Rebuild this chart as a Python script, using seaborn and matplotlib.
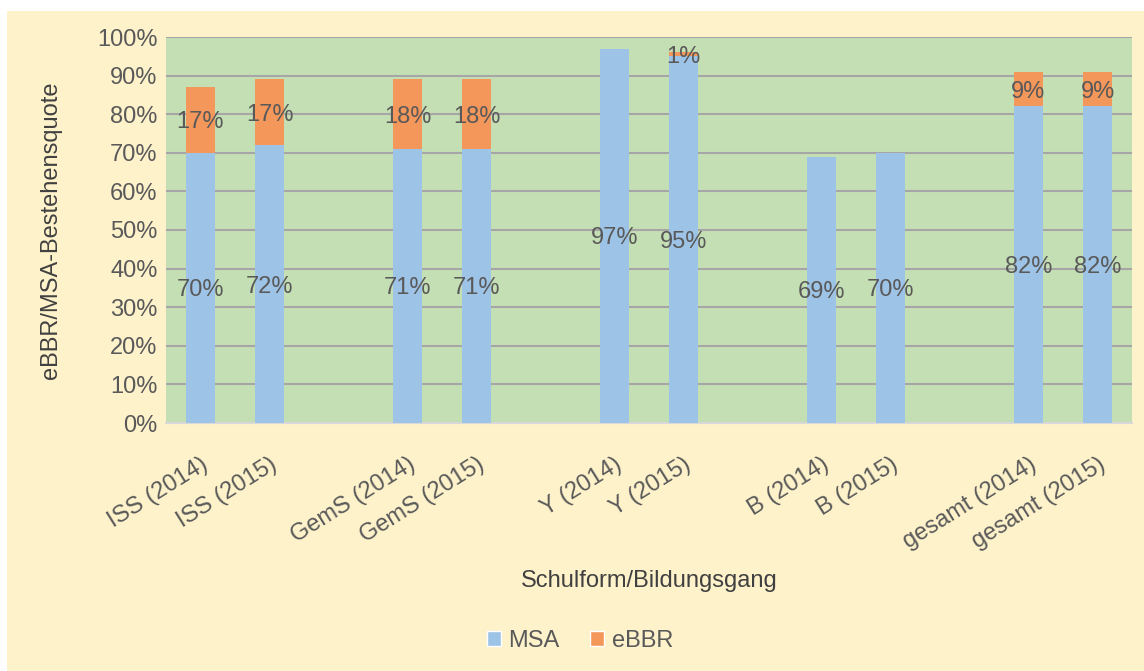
import matplotlib
matplotlib.use("Agg")
import matplotlib.pyplot as plt
from matplotlib.patches import Rectangle, Patch
import seaborn as sns
import pandas as pd

# Categories (school type / year) and pass rates in percent
categories = ["ISS (2014)", "ISS (2015)", "GemS (2014)", "GemS (2015)",
              "Y (2014)", "Y (2015)", "B (2014)", "B (2015)",
              "gesamt (2014)", "gesamt (2015)"]
msa = [70, 72, 71, 71, 97, 95, 69, 70, 82, 82]
ebbr = [17, 17, 18, 18, 0, 1, 0, 0, 9, 9]
yticks = [0, 10, 20, 30, 40, 50, 60, 70, 80, 90, 100]

C_MSA = "#9DC3E6"
C_EBBR = "#F4975A"
C_TEXT = "#595959"
C_PLOT = "#C5DFB4"
C_BG = "#FEF2CB"
FS = 17

sns.set_theme(style="white")
plt.rcParams["font.family"] = ["Liberation Sans", "DejaVu Sans"]

# Slot order: pairs of years separated by an empty slot
order = []
for i in range(0, len(categories), 2):
    if order:
        order.append(" " * (i // 2))
    order += categories[i:i + 2]

df = pd.DataFrame({"kat": categories, "MSA": msa, "eBBR": ebbr})
df["gesamt"] = df["MSA"] + df["eBBR"]

fig = plt.figure(figsize=(11.44, 6.71), dpi=100)
fig.patch.set_facecolor("white")
fig.patches.append(Rectangle((7 / 1144, 0), 1, (671 - 11) / 671,
                             transform=fig.transFigure, facecolor=C_BG,
                             edgecolor="none", zorder=-10))

ax = fig.add_axes([166 / 1144, 1 - 423 / 671, (1132 - 166) / 1144, (423 - 37) / 671])
ax.set_facecolor(C_PLOT)

# Stacked bars: total (orange) first, MSA (blue) drawn over it
sns.barplot(data=df, x="kat", y="gesamt", order=order, color=C_EBBR,
            saturation=1, width=0.41, errorbar=None, ax=ax, zorder=3,
            linewidth=0, edgecolor="none")
sns.barplot(data=df, x="kat", y="MSA", order=order, color=C_MSA,
            saturation=1, width=0.41, errorbar=None, ax=ax, zorder=4,
            linewidth=0, edgecolor="none")

ax.set_xlim(-0.5, len(order) - 0.5)
ax.set_ylim(0, 100)
ax.set_yticks(yticks)
ax.set_yticklabels([f"{v}%" for v in yticks], color=C_TEXT, fontsize=FS)
ax.yaxis.grid(True, color="#A6A6A6", linewidth=1.5, zorder=0)
ax.set_axisbelow(True)
for s in ["top", "left", "right"]:
    ax.spines[s].set_visible(False)
ax.spines["bottom"].set_color("#D9D9D9")
ax.spines["bottom"].set_linewidth(1.5)
ax.tick_params(axis="both", length=0, pad=6)

# Value labels in the middle of each segment
for cat, m, e in zip(categories, msa, ebbr):
    xpos = order.index(cat)
    ax.text(xpos, m / 2, f"{m}%", ha="center", va="center_baseline",
            fontsize=FS, color=C_TEXT, zorder=6)
    if e > 0:
        ax.text(xpos, m + e / 2, f"{e}%", ha="center", va="center_baseline",
                fontsize=FS, color=C_TEXT, zorder=6)

ax.set_xticks(range(len(order)))
ax.set_xticklabels(order, rotation=32, ha="right", rotation_mode="anchor",
                   color=C_TEXT, fontsize=FS)
ax.tick_params(axis="x", pad=22)

ax.set_xlabel("Schulform/Bildungsgang", fontsize=FS, color="#404040")
ax.xaxis.set_label_coords(0.5, -0.38)
ax.set_ylabel("eBBR/MSA-Bestehensquote", fontsize=FS, color="#404040")
ax.yaxis.set_label_coords(-0.108, 0.5)

handles = [Patch(facecolor=C_MSA, label="MSA"), Patch(facecolor=C_EBBR, label="eBBR")]
leg = fig.legend(handles=handles, loc="center", bbox_to_anchor=(0.507, 1 - 641 / 671),
                 ncol=2, frameon=False, fontsize=FS, handlelength=0.6,
                 handleheight=0.6, handletextpad=0.3, columnspacing=1.3)
for t in leg.get_texts():
    t.set_color(C_TEXT)

fig.savefig("out.png", dpi=100, facecolor=fig.get_facecolor())
